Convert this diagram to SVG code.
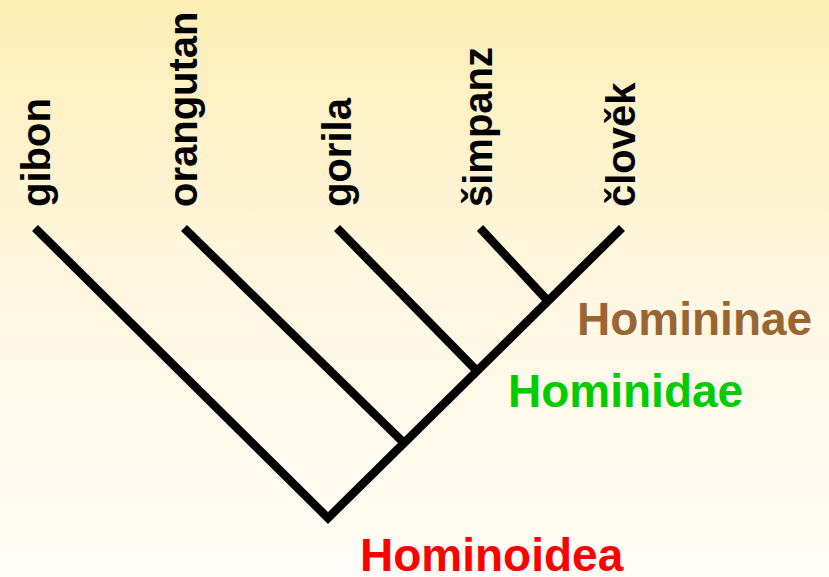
<svg xmlns="http://www.w3.org/2000/svg" width="829" height="577" viewBox="0 0 829 577">
<defs>
<linearGradient id="bg" x1="0" y1="0" x2="0" y2="1">
<stop offset="0" stop-color="#FDEEB5"/>
<stop offset="0.5" stop-color="#FFF7E2"/>
<stop offset="1" stop-color="#FFFDF8"/>
</linearGradient>
<style>
.br{fill:none;stroke:#000;stroke-width:8.5;stroke-linecap:butt;stroke-linejoin:miter}
.leaf{font-family:"Liberation Sans",Arial,sans-serif;font-weight:bold;font-size:40px;fill:#000}
.clade{font-family:"Liberation Sans",Arial,sans-serif;font-weight:bold;font-size:46px}
</style>
</defs>
<rect width="829" height="577" fill="url(#bg)"/>
<g id="connectors">
<polyline class="br" points="35,228 328,518 622,228"/>
<line class="br" x1="184" y1="228" x2="404" y2="443"/>
<line class="br" x1="337" y1="228" x2="478" y2="372"/>
<line class="br" x1="480" y1="228" x2="548" y2="301"/>
</g>
<g id="gibon"><text class="leaf" transform="translate(50,207) rotate(-90)">gibon</text></g>
<g id="orangutan"><text class="leaf" transform="translate(197,207) rotate(-90)">orangutan</text></g>
<g id="gorila"><text class="leaf" transform="translate(351,207) rotate(-90)">gorila</text></g>
<g id="simpanz"><text class="leaf" transform="translate(492,207) rotate(-90)">šimpanz</text></g>
<g id="clovek"><text class="leaf" transform="translate(635,207) rotate(-90)">člověk</text></g>
<g id="homininae"><text class="clade" x="577" y="335" fill="#996633">Homininae</text></g>
<g id="hominidae"><text class="clade" x="508" y="407" fill="#00CC00">Hominidae</text></g>
<g id="hominoidea"><text class="clade" x="360" y="571" fill="#FF0000">Hominoidea</text></g>
</svg>
